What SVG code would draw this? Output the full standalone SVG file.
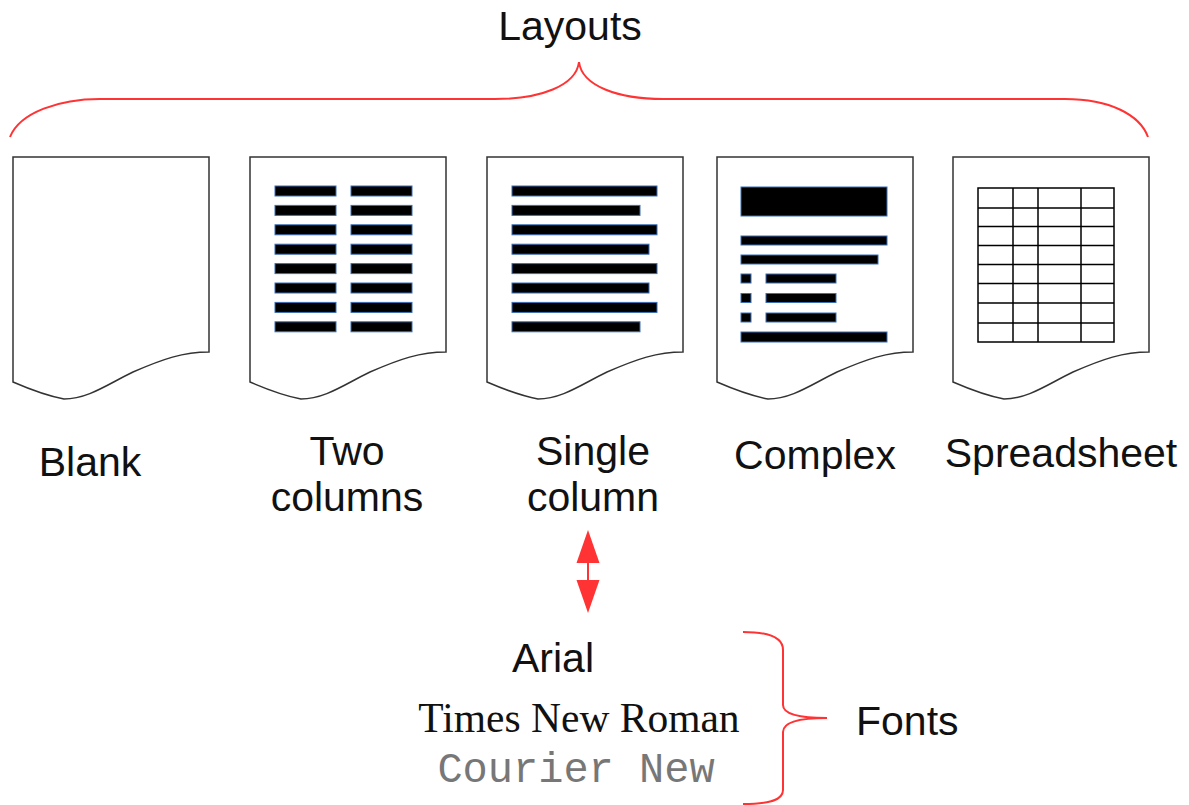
<svg xmlns="http://www.w3.org/2000/svg" xmlns:xlink="http://www.w3.org/1999/xlink" width="1189" height="805" viewBox="0 0 1189 805">
<style>
.doc{fill:#fff;stroke:#333;stroke-width:1.5}
.bar{fill:#000;stroke:#3b6fb6;stroke-width:1}
.grid{fill:none;stroke:#000;stroke-width:1.5}
.brace{fill:none;stroke:#ff3333;stroke-width:2}
.lbl{font-family:"Liberation Sans",Arial,sans-serif;font-size:41px;fill:#111}
</style>
<defs>
<path id="docshape" d="M0,0 H196 V195 C170,195 150,202 120,215 C95,227 75,242 51,242 Q30,238 0,225 Z"/>
</defs>
<g id="layouts-label">
<path class="brace" d="M10,137 C20,112 60,99 100,99 H495 C540,99 576,86 579,62 C582,86 618,99 663,99 H1065 C1110,99 1140,115 1148,137"/>
<text class="lbl" x="570" y="40" text-anchor="middle">Layouts</text>
</g>
<g id="blank">
<use xlink:href="#docshape" class="doc" x="13" y="157"/>
<text class="lbl" x="90" y="476" text-anchor="middle">Blank</text>
</g>
<g id="two-columns">
<use xlink:href="#docshape" class="doc" x="250" y="157"/>
<rect class="bar" x="275" y="186" width="61" height="10"/>
<rect class="bar" x="275" y="205.4" width="61" height="10"/>
<rect class="bar" x="275" y="224.8" width="61" height="10"/>
<rect class="bar" x="275" y="244.2" width="61" height="10"/>
<rect class="bar" x="275" y="263.6" width="61" height="10"/>
<rect class="bar" x="275" y="283" width="61" height="10"/>
<rect class="bar" x="275" y="302.4" width="61" height="10"/>
<rect class="bar" x="275" y="321.8" width="61" height="10"/>
<rect class="bar" x="351" y="186" width="61" height="10"/>
<rect class="bar" x="351" y="205.4" width="61" height="10"/>
<rect class="bar" x="351" y="224.8" width="61" height="10"/>
<rect class="bar" x="351" y="244.2" width="61" height="10"/>
<rect class="bar" x="351" y="263.6" width="61" height="10"/>
<rect class="bar" x="351" y="283" width="61" height="10"/>
<rect class="bar" x="351" y="302.4" width="61" height="10"/>
<rect class="bar" x="351" y="321.8" width="61" height="10"/>
<text class="lbl" x="347" y="465" text-anchor="middle">Two</text>
<text class="lbl" x="347" y="511" text-anchor="middle">columns</text>
</g>
<g id="single-column">
<use xlink:href="#docshape" class="doc" x="487" y="157"/>
<rect class="bar" x="512" y="186" width="145" height="10"/>
<rect class="bar" x="512" y="205.4" width="128" height="10"/>
<rect class="bar" x="512" y="224.8" width="145" height="10"/>
<rect class="bar" x="512" y="244.2" width="137" height="10"/>
<rect class="bar" x="512" y="263.6" width="145" height="10"/>
<rect class="bar" x="512" y="283" width="137" height="10"/>
<rect class="bar" x="512" y="302.4" width="145" height="10"/>
<rect class="bar" x="512" y="321.8" width="128" height="10"/>
<text class="lbl" x="593" y="465" text-anchor="middle">Single</text>
<text class="lbl" x="593" y="511" text-anchor="middle">column</text>
</g>
<g id="complex">
<use xlink:href="#docshape" class="doc" x="717" y="157"/>
<rect class="bar" x="741" y="187" width="146" height="29"/>
<rect class="bar" x="741" y="236" width="146" height="9"/>
<rect class="bar" x="741" y="255" width="137" height="9"/>
<rect class="bar" x="741" y="274" width="10" height="9"/>
<rect class="bar" x="766" y="274" width="70" height="9"/>
<rect class="bar" x="741" y="293.5" width="10" height="9"/>
<rect class="bar" x="766" y="293.5" width="70" height="9"/>
<rect class="bar" x="741" y="313" width="10" height="9"/>
<rect class="bar" x="766" y="313" width="70" height="9"/>
<rect class="bar" x="741" y="332" width="146" height="10"/>
<text class="lbl" x="815" y="469" text-anchor="middle">Complex</text>
</g>
<g id="spreadsheet">
<use xlink:href="#docshape" class="doc" x="953" y="157"/>
<rect class="grid" x="978" y="188" width="136" height="154"/>
<path class="grid" d="M1013,188 V342 M1038,188 V342 M1081,188 V342 M978,208 H1114 M978,226.5 H1114 M978,245.5 H1114 M978,264.5 H1114 M978,283.5 H1114 M978,303 H1114 M978,323 H1114"/>
<text class="lbl" x="1061" y="467" text-anchor="middle">Spreadsheet</text>
</g>
<g id="connectors">
<line x1="588" y1="560" x2="588" y2="584" stroke="#ff3333" stroke-width="2"/>
<polygon points="588,530 599.5,563 576.5,563" fill="#ff3333"/>
<polygon points="588,613 599.5,580 576.5,580" fill="#ff3333"/>
</g>
<g id="fonts">
<text x="553" y="672" text-anchor="middle" font-family="Liberation Sans, Arial, sans-serif" font-size="41" fill="#111">Arial</text>
<text x="579" y="732" text-anchor="middle" font-family="Liberation Serif, Times New Roman, serif" font-size="41.5" fill="#111">Times New Roman</text>
<text x="576" y="782" text-anchor="middle" font-family="Liberation Mono, Courier New, monospace" font-size="42" fill="#777">Courier New</text>
<path class="brace" d="M743,632 C770,632 783,638 783,650 V705 C783,714 800,718 827,718 C800,718 783,722 783,732 V790 C783,800 770,804 743,804"/>
<text class="lbl" x="856" y="735">Fonts</text>
</g>
</svg>
